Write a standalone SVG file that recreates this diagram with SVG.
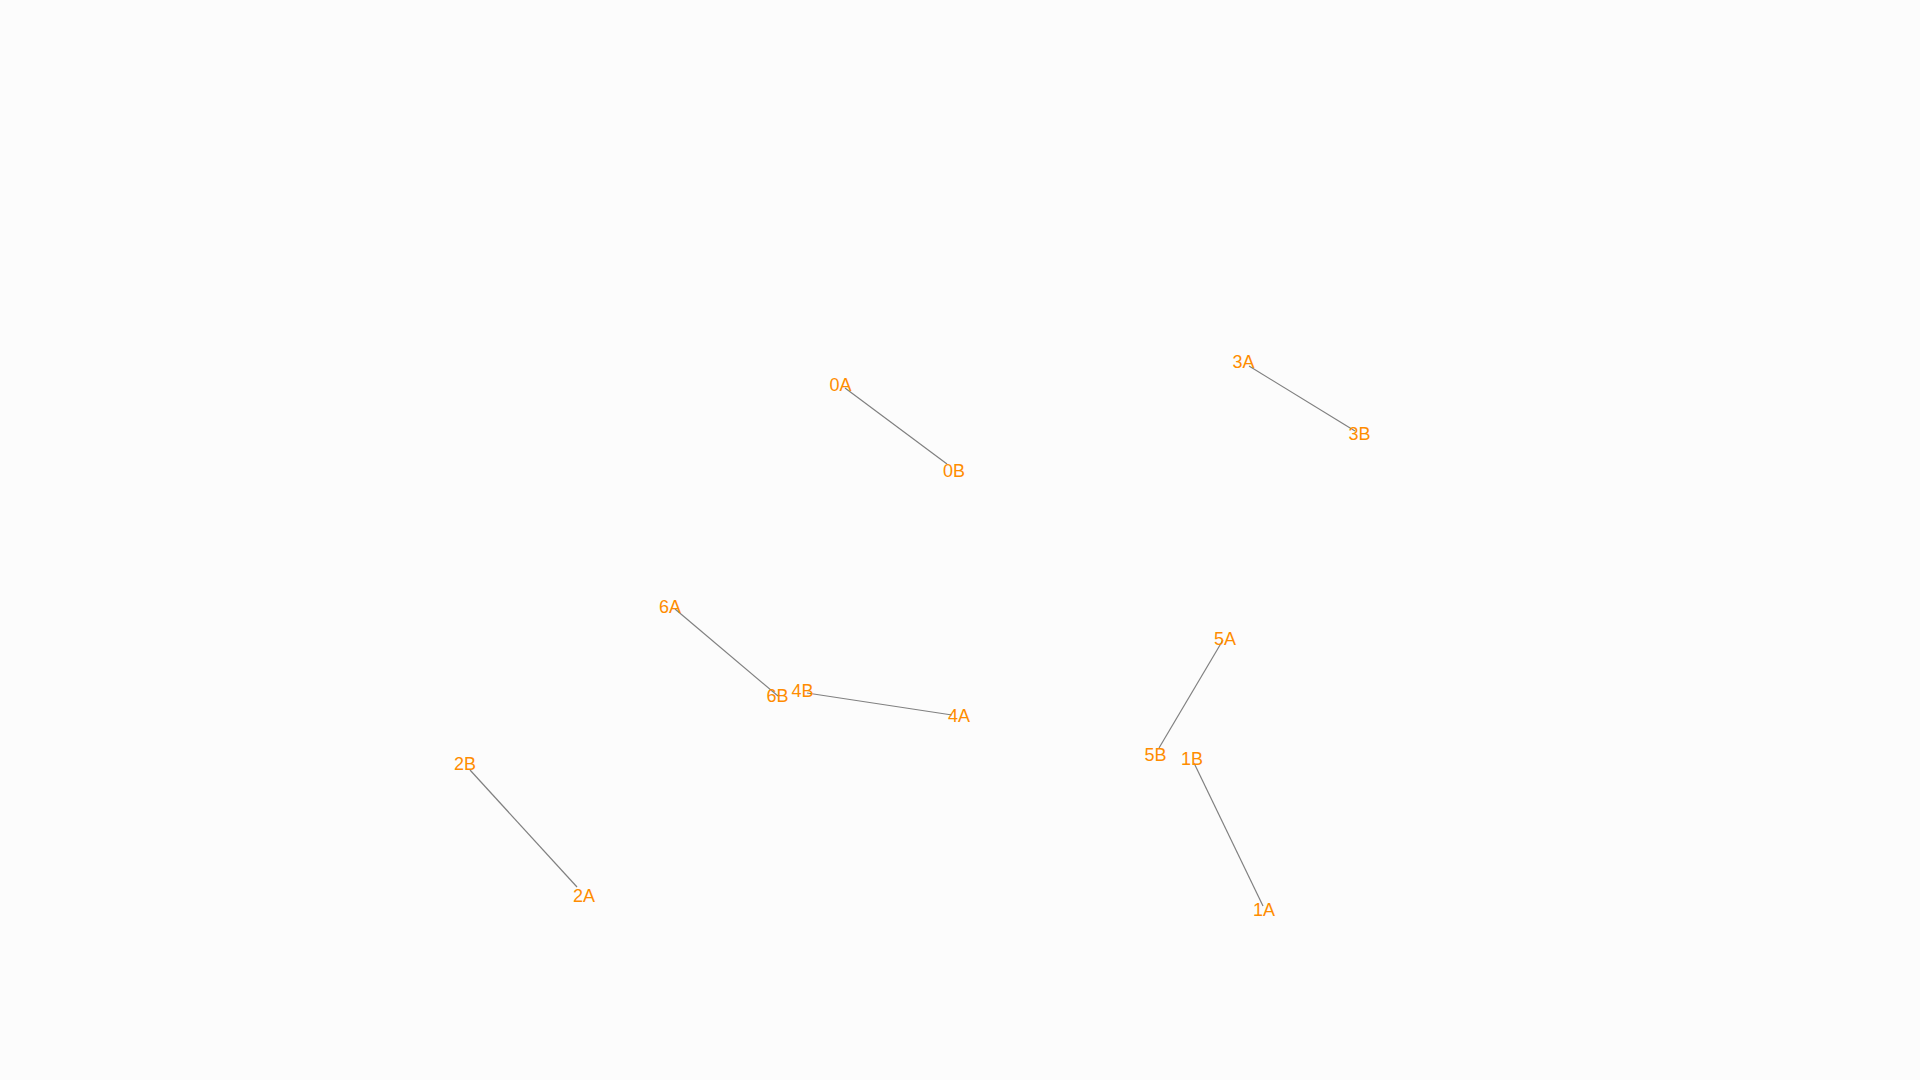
<svg xmlns="http://www.w3.org/2000/svg" width="1920" height="1080" viewBox="0 0 1920 1080">
<style>
.bg{fill:#fcfcfc}
.edge{stroke:#808080;stroke-width:1.2;fill:none}
.lbl{font-family:"Liberation Sans",Arial,sans-serif;font-size:18px;fill:#ff8c00;text-anchor:middle}
</style>
<rect class="bg" x="0" y="0" width="1920" height="1080"/>
<g id="connectors">
<line class="edge" x1="845" y1="388" x2="947" y2="464"/>
<line class="edge" x1="1249" y1="366" x2="1355" y2="431"/>
<line class="edge" x1="675" y1="609" x2="778" y2="696"/>
<line class="edge" x1="807" y1="693" x2="952" y2="715"/>
<line class="edge" x1="1223" y1="640" x2="1159" y2="748"/>
<line class="edge" x1="1194" y1="763" x2="1263" y2="906"/>
<line class="edge" x1="470" y1="770" x2="577" y2="887"/>
</g>
<g id="n0A"><text class="lbl" x="840.5" y="391">0A</text></g>
<g id="n0B"><text class="lbl" x="954" y="477">0B</text></g>
<g id="n3A"><text class="lbl" x="1243.5" y="368">3A</text></g>
<g id="n3B"><text class="lbl" x="1359.5" y="440">3B</text></g>
<g id="n6A"><text class="lbl" x="670" y="613">6A</text></g>
<g id="n6B"><text class="lbl" x="777.5" y="702">6B</text></g>
<g id="n4B"><text class="lbl" x="802.5" y="697">4B</text></g>
<g id="n4A"><text class="lbl" x="959" y="722">4A</text></g>
<g id="n5A"><text class="lbl" x="1225" y="645">5A</text></g>
<g id="n5B"><text class="lbl" x="1155.5" y="761">5B</text></g>
<g id="n1B"><text class="lbl" x="1192" y="765">1B</text></g>
<g id="n1A"><text class="lbl" x="1264" y="916">1A</text></g>
<g id="n2B"><text class="lbl" x="465" y="770">2B</text></g>
<g id="n2A"><text class="lbl" x="584" y="902">2A</text></g>
</svg>
